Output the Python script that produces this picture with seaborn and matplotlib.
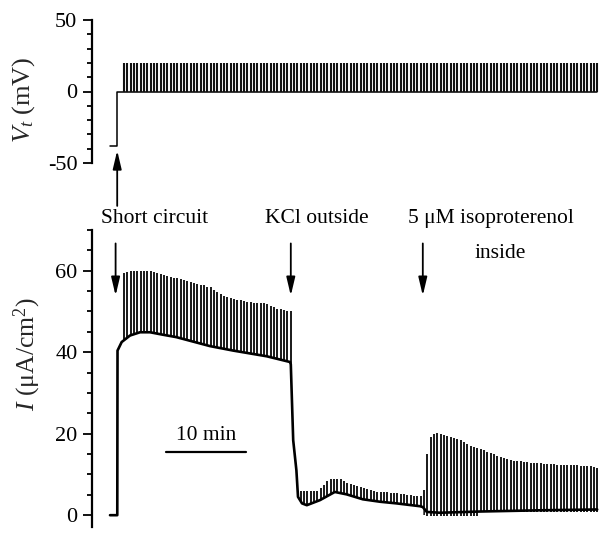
import numpy as np
import pandas as pd
import matplotlib
matplotlib.use("Agg")
import matplotlib.pyplot as plt
import seaborn as sns

# ---------------- data (time in minutes) ----------------
pulse_start_min = 1.75
pulse_interval_min = 25 / 60.0

# transepithelial voltage
vt_t = [0.0, 0.9, 0.9, 60.9]
vt_v = [-38, -38, 0, 0]
vt_pulse_mV = 20

# short-circuit current baseline
base_t = [0.0, 0.91, 0.94, 1.46, 2.5, 3.75, 5.0, 6.6, 8.3, 10.4, 12.5, 15.4, 19.6,
          22.5, 22.6, 22.9, 23.3, 23.5, 24.0, 24.6, 26.25, 28.1, 29.6, 31.6, 33.75,
          35.8, 38.75, 39.1, 39.6, 41.25, 46.25, 53.75, 60.9]
base_I = [0.0, 0.0, 40.4, 42.5, 44.1, 44.9, 44.9, 44.3, 43.7, 42.6, 41.5, 40.4, 39.0,
          37.6, 37.0, 18.4, 11.0, 4.5, 2.9, 2.45, 3.7, 5.7, 5.1, 3.9, 3.3,
          2.9, 2.2, 2.0, 0.8, 0.6, 0.9, 1.2, 1.4]

# pulse tops (current), read pulse by pulse
top_seg1 = [59.5, 59.7, 59.9, 60.0, 60.0, 59.9, 60.0, 59.9, 59.9, 59.7,
            59.5, 59.2, 58.9, 58.6, 58.4, 58.3, 58.1, 57.9, 57.7, 57.4,
            57.2, 57.0, 56.8, 56.6, 56.4, 56.1, 55.9, 55.3, 54.7, 54.2,
            53.9, 53.6, 53.3, 53.1, 52.9, 52.7, 52.5, 52.4, 52.3, 52.2,
            52.1, 52.0, 52.0, 51.8, 51.4, 51.0, 50.7, 50.5, 50.3, 50.2, 50.0]
top_seg2 = [16.0, 6.9, 6.0, 5.9, 5.9, 5.9, 5.9, 6.0, 6.6, 7.4,
            8.4, 8.8, 9.0, 9.0, 8.8, 8.3, 8.0, 7.6, 7.3, 7.1,
            6.8, 6.6, 6.4, 6.2, 6.0, 5.8, 5.7, 5.6, 5.6, 5.5,
            5.4, 5.4, 5.2, 5.1, 5.0, 4.9, 4.8, 4.7, 4.7, 6.1]
top_seg3 = [15.0, 19.3, 20.0, 20.2, 19.9, 19.6, 19.4, 19.2, 19.0, 18.8,
            18.4, 17.9, 17.5, 17.1, 16.8, 16.5, 16.2, 15.9, 15.6, 15.3,
            14.9, 14.6, 14.3, 14.0, 13.8, 13.6, 13.4, 13.3, 13.2, 13.1,
            13.0, 12.9, 12.8, 12.7, 12.7, 12.6, 12.6, 12.5, 12.5, 12.4,
            12.4, 12.3, 12.3, 12.3, 12.2, 12.2, 12.1, 12.1, 12.0, 12.0,
            11.9, 11.6]
low_seg3 = [-0.3] * 16 + [0.9] * 36

events_t = [0.9, 22.6, 39.1]
scale_bar_min = 10

# ---------------- style ----------------
sns.set_theme(style="white")
plt.rcParams["font.family"] = ["Liberation Serif", "DejaVu Serif"]
plt.rcParams["mathtext.fontset"] = "custom"
plt.rcParams["mathtext.rm"] = "Liberation Serif"
plt.rcParams["mathtext.it"] = "Liberation Serif:italic"
plt.rcParams["axes.unicode_minus"] = False

W, H = 599, 533
fig = plt.figure(figsize=(W / 100, H / 100), dpi=100)
fig.patch.set_facecolor("white")

left = 92 / W
width = 507 / W
ax_v = fig.add_axes([left, (H - 163) / H, width, 143 / H])
ax_i = fig.add_axes([left, (H - 527) / H, width, 297 / H])

n_total = len(top_seg1) + len(top_seg2) + len(top_seg3)
t_pulse = pulse_start_min + np.arange(n_total) * pulse_interval_min
xlim = (-2.25, 61.125)

def style_axis(ax, ylim, major, minor):
    ax.set_xlim(*xlim)
    ax.set_ylim(*ylim)
    for s in ["top", "right", "bottom"]:
        ax.spines[s].set_visible(False)
    ax.spines["left"].set_linewidth(1.6)
    ax.spines["left"].set_color("black")
    ax.set_xticks([])
    ax.set_yticks(major)
    ax.set_yticks(minor, minor=True)
    ax.tick_params(axis="y", which="major", direction="out", length=6.5, width=1.3,
                   labelsize=16, pad=4, colors="black", left=True)
    ax.tick_params(axis="y", which="minor", direction="out", length=3.8, width=1.3,
                   colors="black", left=True)
    ax.set_facecolor("none")
    ax.grid(False)

# ---- top: Vt ----
style_axis(ax_v, (-50, 50), [-50, 0, 50], np.arange(-50, 51, 10))
ax_v.set_yticklabels(["-50", "0", "50"])
vt_df = pd.DataFrame({"t": vt_t, "v": vt_v})
sns.lineplot(data=vt_df, x="t", y="v", ax=ax_v, color="black", lw=1.1,
             sort=False, estimator=None)
ax_v.vlines(t_pulse, 0, vt_pulse_mV, color="#111111", lw=1.5)
ax_v.set_xlabel("")
ax_v.set_ylabel("")
ax_v.annotate("", xy=(events_t[0], -41.3), xytext=(events_t[0], -80),
              xycoords="data", annotation_clip=False,
              arrowprops=dict(arrowstyle="-|>,head_length=0.55,head_width=0.13",
                              mutation_scale=20, lw=1.3, color="black",
                              shrinkA=0, shrinkB=0))

# ---- bottom: current ----
style_axis(ax_i, (-2.9, 70), [0, 20, 40, 60], np.arange(0, 71, 5))
tops = np.array(top_seg1 + top_seg2 + top_seg3)
lows = np.array([0.0] * (len(top_seg1) + len(top_seg2)) + low_seg3)
ax_i.vlines(t_pulse, lows, tops, color="#111111", lw=1.35, zorder=1)
bt = np.array(base_t)
bI = np.array(base_I)
m = (bt >= 0.94) & (bt <= 39.1)
ax_i.fill_between(bt[m], -2.9, bI[m], color="white", lw=0, zorder=2)
base_df = pd.DataFrame({"t": base_t, "I": base_I})
sns.lineplot(data=base_df, x="t", y="I", ax=ax_i, color="black", lw=1.9,
             sort=False, estimator=None, zorder=3)
ax_i.set_xlabel("")
ax_i.set_ylabel("")

for t in events_t:
    xa = t - 0.2 if t < 1 else t
    ax_i.annotate("", xy=(xa, 53.9), xytext=(xa, 66.7),
                  xycoords="data", annotation_clip=False,
                  arrowprops=dict(arrowstyle="-|>,head_length=0.55,head_width=0.13",
                                  mutation_scale=20, lw=1.3, color="black",
                                  shrinkA=0, shrinkB=0))

txt = dict(fontsize=15.5, ha="center", va="center", color="black", clip_on=False)
ax_i.text(5.6, 72.8, "Short circuit", **txt)
ax_i.text(25.9, 72.8, "KCl outside", **txt)
ax_i.text(47.6, 72.8, "5 μM isoproterenol", **txt)
ax_i.text(48.75, 64.2, "inside", **txt)

# scale bar
ax_i.plot([7, 7 + scale_bar_min], [15.4, 15.4], color="black", lw=1.6)
ax_i.text(12, 19.6, "10 min", **txt)

# axis labels
fig.text(24 / W, 1 - 100 / H, r"$V_t$ (mV)", rotation=90, ha="center", va="center",
         fontsize=19)
fig.text(27 / W, 1 - 354 / H, r"$I$ (μA/cm$^2$)", rotation=90, ha="center", va="center",
         fontsize=18.5)

fig.savefig("out.png", dpi=100, facecolor="white")
